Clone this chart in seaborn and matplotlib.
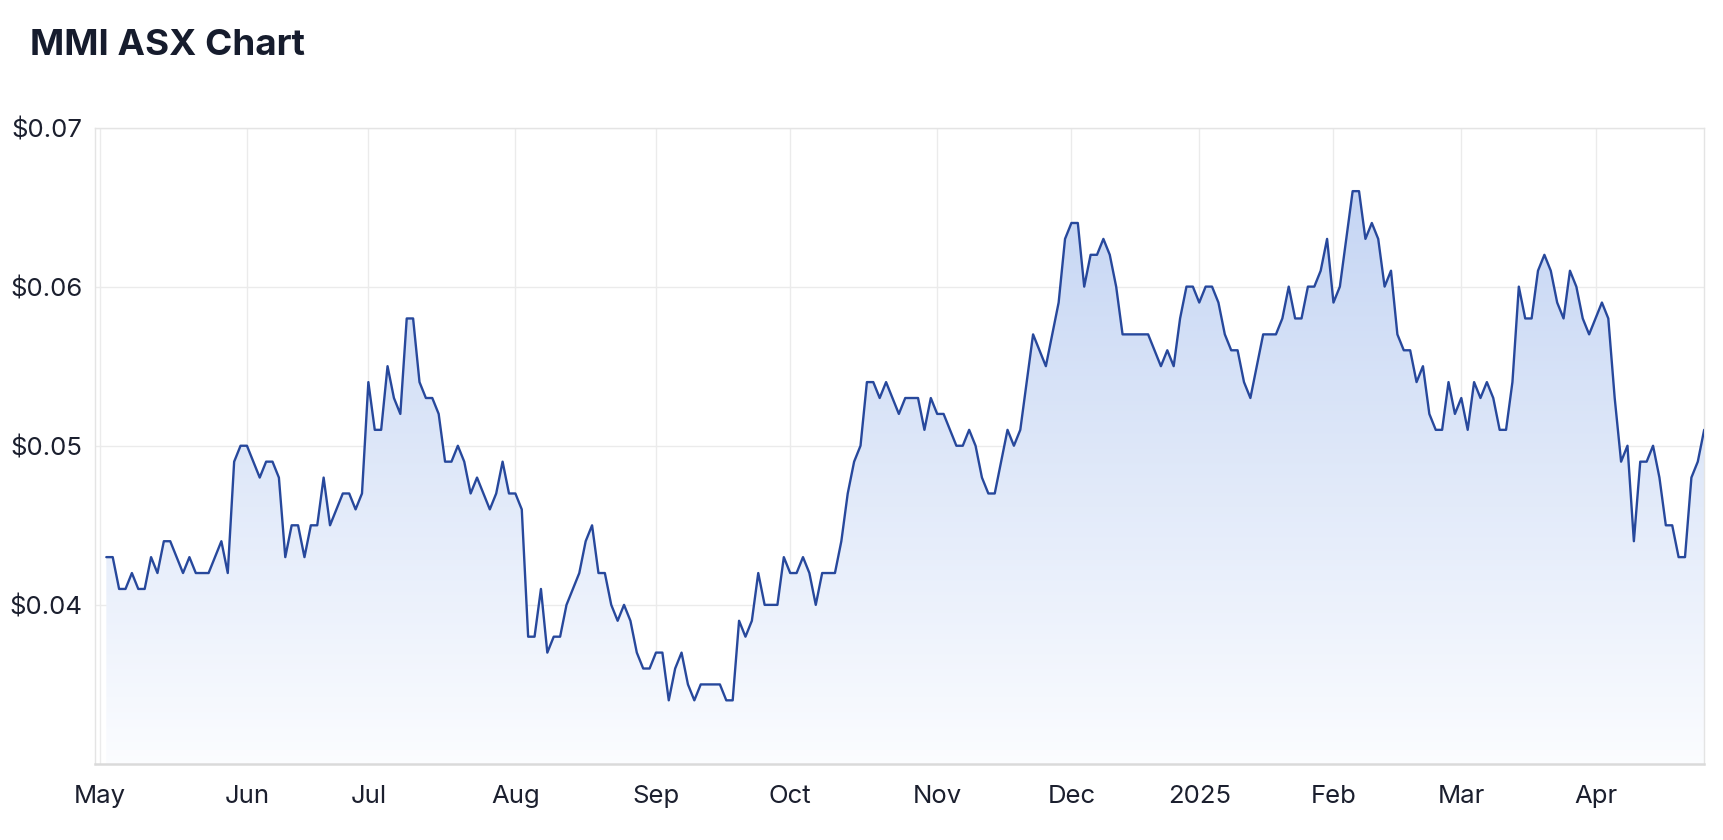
import numpy as np
import pandas as pd
import matplotlib
matplotlib.use("Agg")
import matplotlib.pyplot as plt
import seaborn as sns

# daily closing prices (trading days), grouped by month
may = [0.043, 0.043, 0.041, 0.041, 0.042, 0.041, 0.041, 0.043, 0.042, 0.044, 0.044,
       0.043, 0.042, 0.043, 0.042, 0.042, 0.042, 0.043, 0.044, 0.042, 0.049, 0.050]
jun = [0.050, 0.049, 0.048, 0.049, 0.049, 0.048, 0.043, 0.045, 0.045, 0.043,
       0.045, 0.045, 0.048, 0.045, 0.046, 0.047, 0.047, 0.046, 0.047]
jul = [0.054, 0.051, 0.051, 0.055, 0.053, 0.052, 0.058, 0.058, 0.054, 0.053, 0.053, 0.052,
       0.049, 0.049, 0.050, 0.049, 0.047, 0.048, 0.047, 0.046, 0.047, 0.049, 0.047]
aug = [0.047, 0.046, 0.038, 0.038, 0.041, 0.037, 0.038, 0.038, 0.040, 0.041, 0.042,
       0.044, 0.045, 0.042, 0.042, 0.040, 0.039, 0.040, 0.039, 0.037, 0.036, 0.036]
sep = [0.037, 0.037, 0.034, 0.036, 0.037, 0.035, 0.034, 0.035, 0.035, 0.035, 0.035,
       0.034, 0.034, 0.039, 0.038, 0.039, 0.042, 0.040, 0.040, 0.040, 0.043]
oct = [0.042, 0.042, 0.043, 0.042, 0.040, 0.042, 0.042, 0.042, 0.044, 0.047, 0.049, 0.050,
       0.054, 0.054, 0.053, 0.054, 0.053, 0.052, 0.053, 0.053, 0.053, 0.051, 0.053]
nov = [0.052, 0.052, 0.051, 0.050, 0.050, 0.051, 0.050, 0.048, 0.047, 0.047, 0.049,
       0.051, 0.050, 0.051, 0.054, 0.057, 0.056, 0.055, 0.057, 0.059, 0.063]
dec = [0.064, 0.064, 0.060, 0.062, 0.062, 0.063, 0.062, 0.060, 0.057, 0.057,
       0.057, 0.057, 0.057, 0.056, 0.055, 0.056, 0.055, 0.058, 0.060, 0.060]
jan = [0.059, 0.060, 0.060, 0.059, 0.057, 0.056, 0.056, 0.054, 0.053, 0.055, 0.057,
       0.057, 0.057, 0.058, 0.060, 0.058, 0.058, 0.060, 0.060, 0.061, 0.063]
feb = [0.059, 0.060, 0.063, 0.066, 0.066, 0.063, 0.064, 0.063, 0.060, 0.061,
       0.057, 0.056, 0.056, 0.054, 0.055, 0.052, 0.051, 0.051, 0.054, 0.052]
mar = [0.053, 0.051, 0.054, 0.053, 0.054, 0.053, 0.051, 0.051, 0.054, 0.060, 0.058,
       0.058, 0.061, 0.062, 0.061, 0.059, 0.058, 0.061, 0.060, 0.058, 0.057]
apr = [0.058, 0.059, 0.058, 0.053, 0.049, 0.050, 0.044, 0.049, 0.049,
       0.050, 0.048, 0.045, 0.045, 0.043, 0.043, 0.048, 0.049, 0.051]

months = [may, jun, jul, aug, sep, oct, nov, dec, jan, feb, mar, apr]
month_labels = ["May", "Jun", "Jul", "Aug", "Sep", "Oct", "Nov", "Dec",
                "2025", "Feb", "Mar", "Apr"]
y_ticks = [0.04, 0.05, 0.06, 0.07]

prices = np.concatenate(months)
df = pd.DataFrame({"day": np.arange(len(prices)), "price": prices})
# first month's tick sits one trading day before the first close
starts = np.concatenate([[0], np.cumsum([len(m) for m in months])[:-1]])
tick_pos = starts.astype(float)
tick_pos[0] -= 1

sns.set_theme(style="white")
plt.rcParams["font.family"] = ["Inter", "DejaVu Sans"]

line_col = "#27489c"
fig = plt.figure(figsize=(17.24, 8.4), dpi=100)
ax = fig.add_axes([0.055, 0.0905, 0.9335, 0.7577])

ymin, ymax = 0.030, 0.070
xmin, xmax = -1.8, len(prices) - 1

# gradient fill under the line
grad = np.linspace(0, 1, 256).reshape(-1, 1)
top = np.array([0.75, 0.82, 0.95])
bot = np.array([0.985, 0.99, 1.0])
img = top * (1 - grad[..., None]) + bot * grad[..., None]
img = img.reshape(256, 1, 3)
im = ax.imshow(img, extent=[xmin, xmax, ymin, ymax], aspect="auto",
               origin="upper", zorder=1)
poly = ax.fill_between(df["day"], df["price"], ymin, color="none", lw=0)
clip = poly.get_paths()[0]
im.set_clip_path(clip, transform=ax.transData)

sns.lineplot(data=df, x="day", y="price", ax=ax, color=line_col,
             linewidth=1.7, zorder=3)

ax.set_xlim(xmin, xmax)
ax.set_ylim(ymin, ymax)
ax.set_xticks(tick_pos)
ax.set_xticklabels(month_labels)
ax.set_yticks(y_ticks)
ax.set_yticklabels([f"${v:.2f}" for v in y_ticks])
ax.set_xlabel("")
ax.set_ylabel("")
ax.grid(True, color="#ebebeb", linewidth=1.0, zorder=0)
ax.set_axisbelow(True)
for s in ["left", "top", "right"]:
    ax.spines[s].set_color("#e4e4e4")
    ax.spines[s].set_linewidth(1.0)
ax.spines["bottom"].set_color("#dadada")
ax.spines["bottom"].set_linewidth(1.8)
ax.tick_params(axis="both", length=0, labelsize=18.5, colors="#1b1f2e")
ax.tick_params(axis="x", pad=15)
ax.tick_params(axis="y", pad=9)

fig.text(0.0175, 0.946, "MMI ASX Chart", fontsize=26.5, fontweight="bold",
         color="#161c2d", ha="left", va="center")

fig.savefig("out.png", dpi=100)
